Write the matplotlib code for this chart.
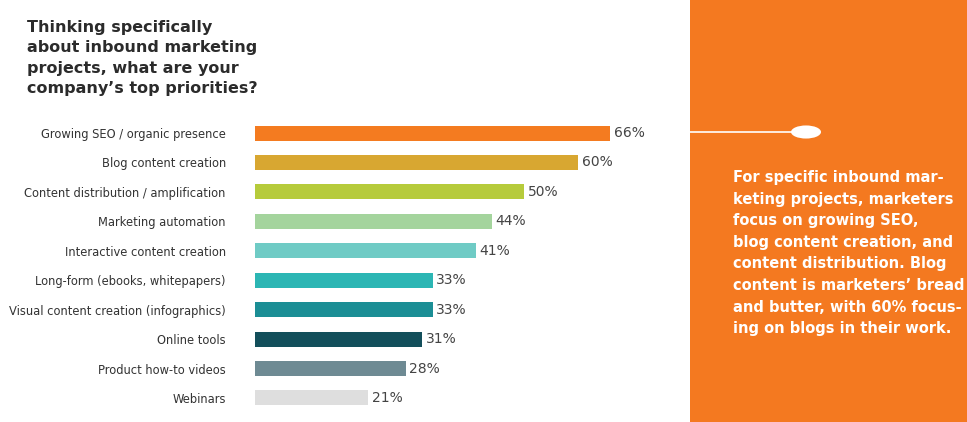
import matplotlib
matplotlib.use('Agg')
import matplotlib.pyplot as plt
from matplotlib.patches import Rectangle, Circle

categories = ['Growing SEO / organic presence', 'Blog content creation',
              'Content distribution / amplification', 'Marketing automation',
              'Interactive content creation', 'Long-form (ebooks, whitepapers)',
              'Visual content creation (infographics)', 'Online tools',
              'Product how-to videos', 'Webinars']
values = [66, 60, 50, 44, 41, 33, 33, 31, 28, 21]
colors = ['#F47B20', '#D8A731', '#B6CB3B', '#A4D49D', '#6FCBC5',
          '#2CB6B4', '#1B8E95', '#134F5B', '#6E8A93', '#DEDEDE']

title = ('Thinking specifically\nabout inbound marketing\n'
         'projects, what are your\ncompany\u2019s top priorities?')
note = ('For specific inbound mar-\nketing projects, marketers\n'
        'focus on growing SEO,\nblog content creation, and\n'
        'content distribution. Blog\ncontent is marketers\u2019 bread\n'
        'and butter, with 60% focus-\ning on blogs in their work.')

W, H = 967, 422
fig = plt.figure(figsize=(W / 100, H / 100), dpi=100)
fig.patch.set_facecolor('white')

# orange side panel
fig.patches.append(Rectangle((690 / W, 0), 1 - 690 / W, 1, transform=fig.transFigure,
                             facecolor='#F47920', edgecolor='none', zorder=0))
fig.add_artist(plt.Line2D([690 / W, 792 / W], [1 - 132 / H] * 2, color='white', lw=1.2))
fig.add_artist(Circle((806 / W, 1 - 132 / H), 15 / W, transform=fig.transFigure,
                      facecolor='white', edgecolor='none'))
fig.text(733 / W, 1 - 170 / H, note, color='white', fontsize=10.5, fontweight='bold',
         va='top', ha='left', linespacing=1.55, family='DejaVu Sans')

fig.text(27 / W, 1 - 20 / H, title, fontsize=11.5, fontweight='bold', color='#2b2b2b',
         va='top', ha='left', linespacing=1.45)

ax = fig.add_axes([255 / W, (H - 412.7) / H, 430.4 / W, 294.4 / H])
ax.set_xlim(0, 80)
ax.set_ylim(len(values) - 0.5, -0.5)
ypos = range(len(values))
ax.barh(ypos, values, height=0.51, color=colors)
for y, v in zip(ypos, values):
    ax.text(v + 0.7, y, f'{v}%', va='center', ha='left', fontsize=10, color='#444444')
ax.set_yticks(list(ypos))
ax.set_yticklabels(categories, fontsize=8.3, color='#333333')
ax.tick_params(axis='y', length=0, pad=21)
ax.set_xticks([])
for s in ax.spines.values():
    s.set_visible(False)
ax.patch.set_alpha(0)

fig.savefig('out.png', dpi=100, facecolor='white')
